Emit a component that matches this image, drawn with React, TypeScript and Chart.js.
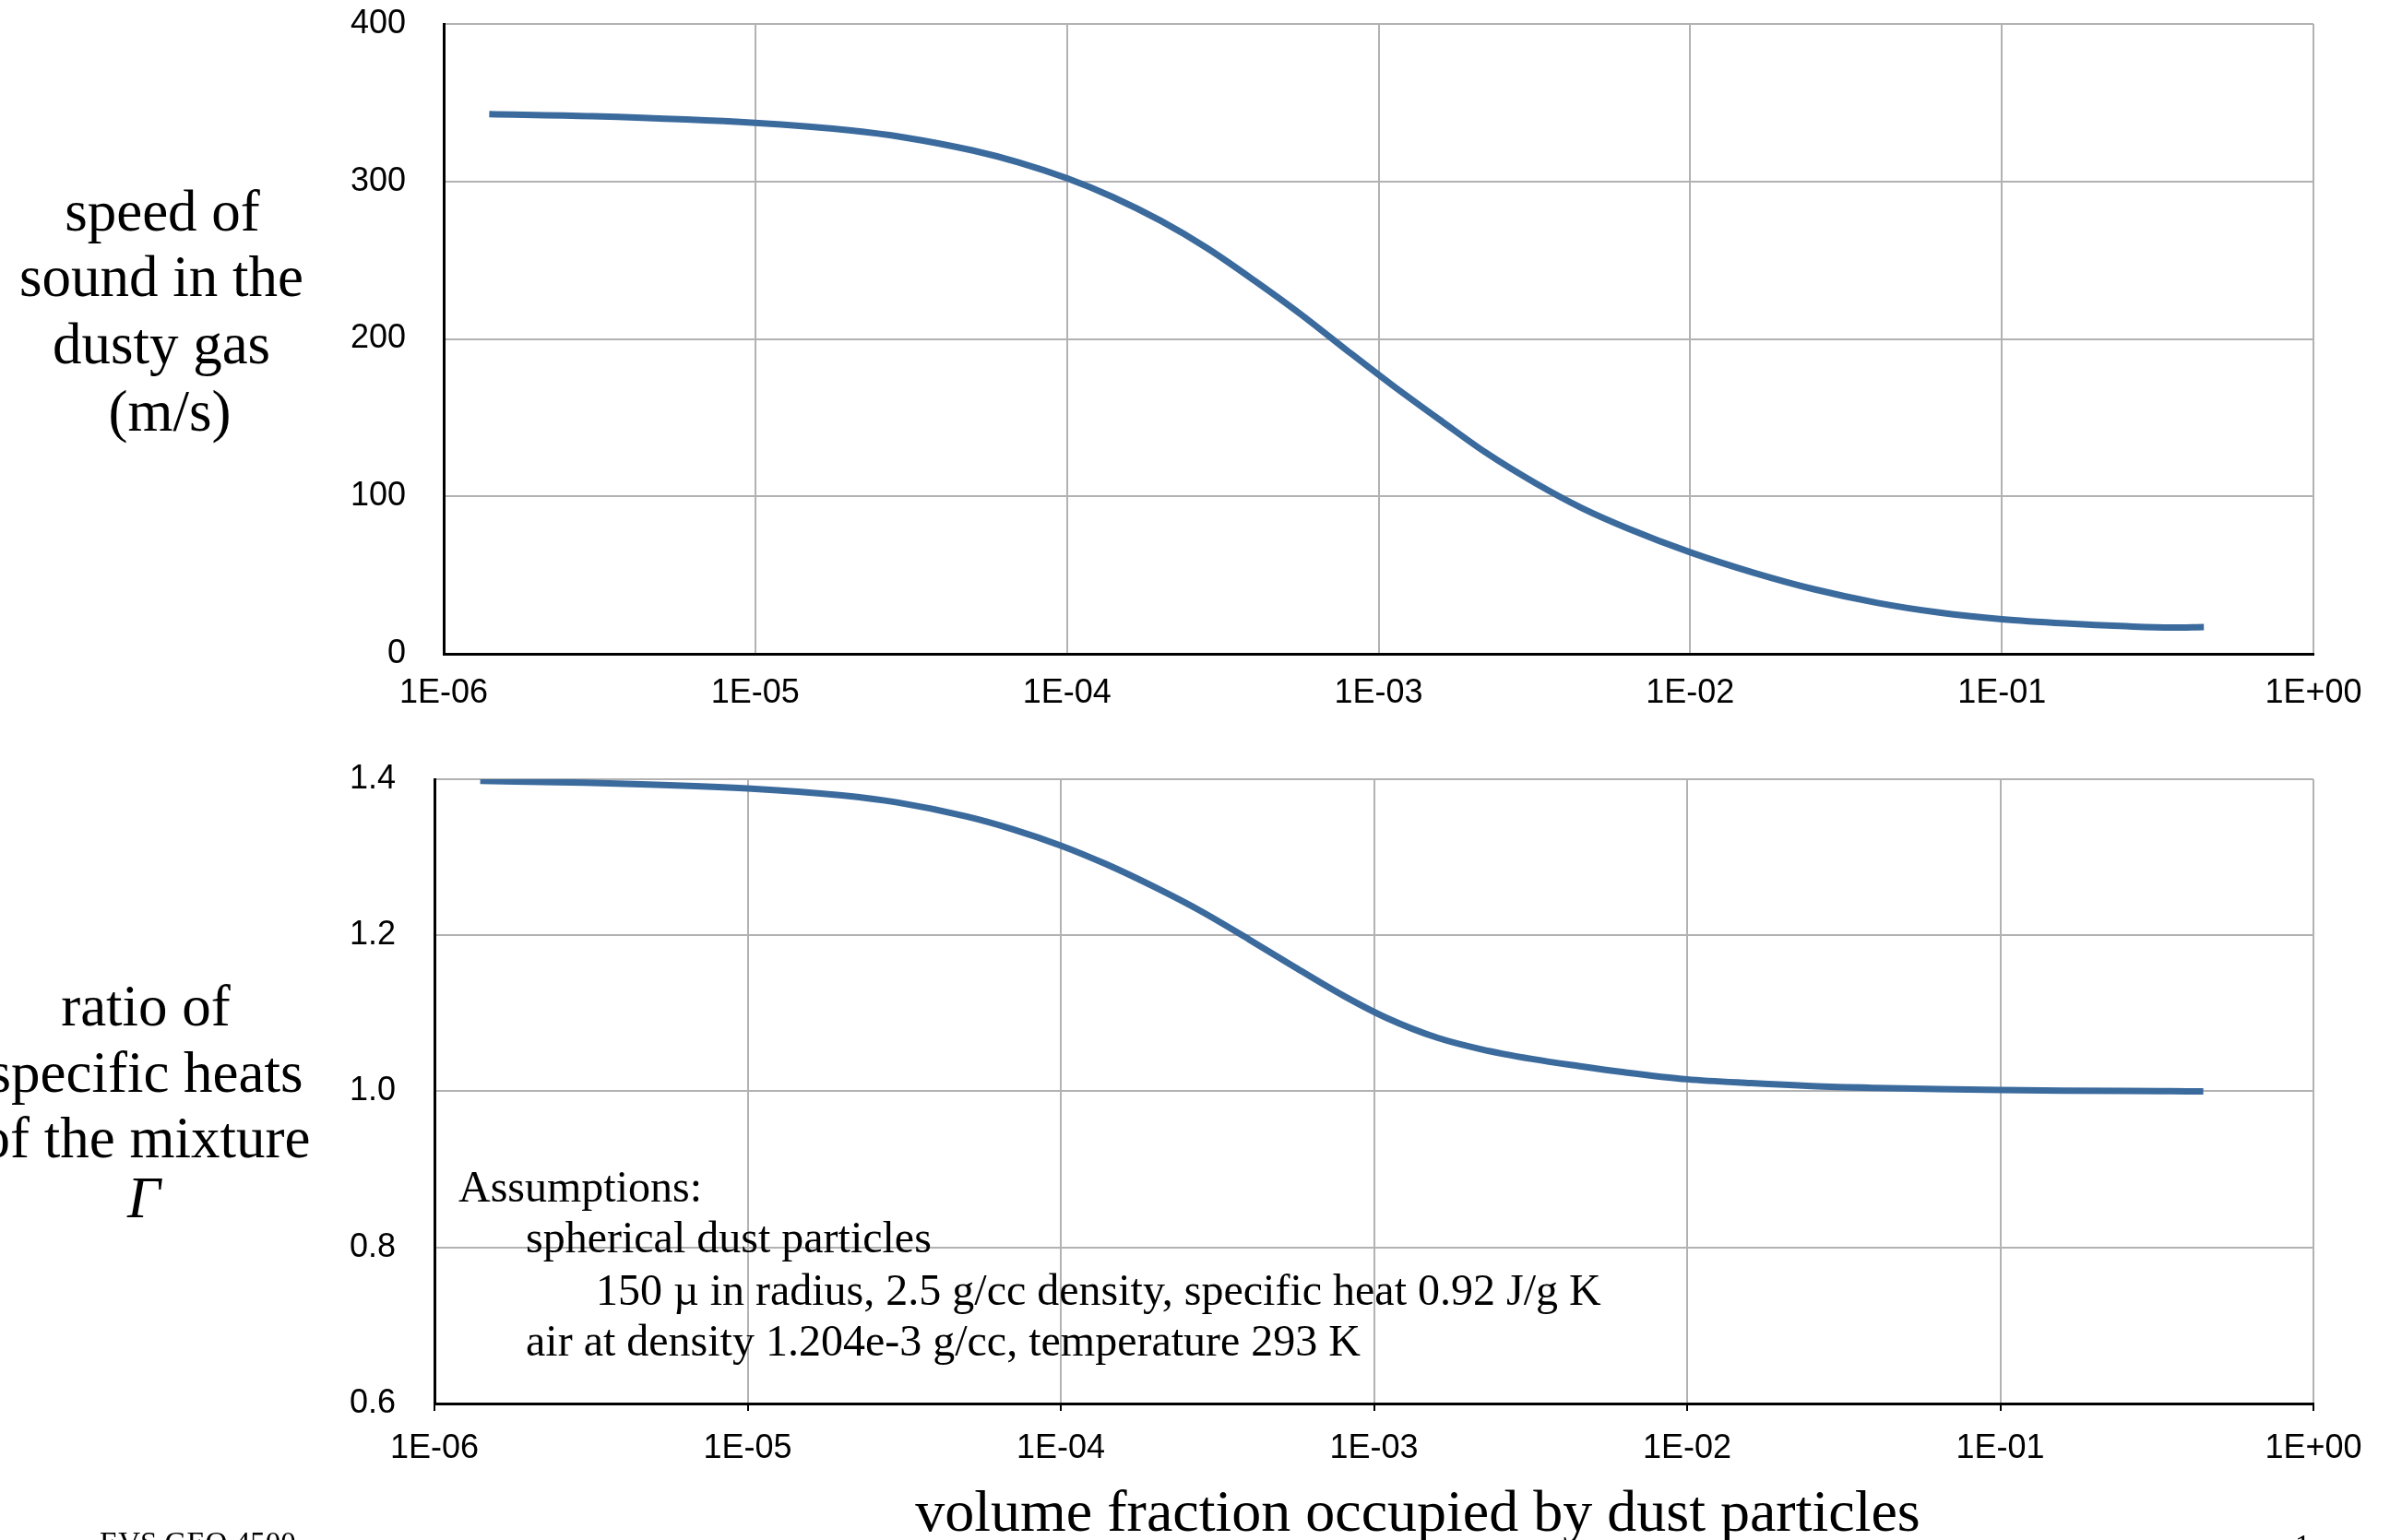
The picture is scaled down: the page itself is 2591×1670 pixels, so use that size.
import React, { useEffect, useRef } from 'react';
import { Chart, registerables } from 'chart.js';

Chart.register(...registerables);

// Volume fraction of dust (x) shared by both panels
const volumeFraction = [
  1.4e-6, 3e-6, 1e-5, 2e-5, 3e-5, 5e-5, 7e-5, 1e-4, 1.4e-4, 2e-4, 2.8e-4,
  4e-4, 5.6e-4, 8e-4, 1.1e-3, 1.6e-3, 2.2e-3, 3.2e-3, 4.5e-3, 6.3e-3, 1e-2,
  1.6e-2, 2.5e-2, 4e-2, 6.3e-2, 0.1, 0.16, 0.25, 0.35, 0.445,
];

// Speed of sound in the dusty gas (m/s)
const soundSpeed = [
  342.7, 341.4, 337.2, 332.5, 328.0, 319.6, 312.1, 302, 290.2, 275, 258,
  237, 216, 192, 171, 147.5, 128, 108.2, 92.5, 79.7, 64.5,
  51.5, 41, 32.3, 26.2, 22, 19.3, 17.5, 16.7, 17.0,
];

// Ratio of specific heats of the mixture
const gammaMixture = [
  1.3978, 1.3956, 1.3883, 1.3793, 1.3703, 1.3523, 1.3361, 1.315, 1.2909, 1.2615, 1.231,
  1.1945, 1.159, 1.1225, 1.094, 1.0685, 1.054, 1.0415, 1.0325, 1.0245, 1.0155,
  1.0105, 1.0068, 1.0045, 1.003, 1.0019, 1.001, 1.0005, 1.0002, 1.0,
];

const decadeTicks = [1e-6, 1e-5, 1e-4, 1e-3, 1e-2, 1e-1, 1];
const decadeLabels = ['1E-06', '1E-05', '1E-04', '1E-03', '1E-02', '1E-01', '1E+00'];
const speedTicks = [0, 100, 200, 300, 400];
const speedTickLabels = ['0', '100', '200', '300', '400'];
const gammaTicks = [0.6, 0.8, 1.0, 1.2, 1.4];
const gammaTickLabels = ['0.6', '0.8', '1.0', '1.2', '1.4'];

const speedTitle = ['speed of', 'sound in the', 'dusty gas', '(m/s)'];
const gammaTitle = ['ratio of', 'specific heats', 'of the mixture'];
const assumptions = [
  'Assumptions:',
  'spherical dust particles',
  '150 µ in radius, 2.5 g/cc density, specific heat 0.92 J/g K',
  'air at density 1.204e-3 g/cc, temperature 293 K',
];

const SANS = "'Liberation Sans', Arial, Helvetica, sans-serif";
const SERIF = "'Liberation Serif', 'Times New Roman', Times, serif";
const LINE_COLOR = '#3b6a9d';
const GRID_COLOR = '#b2b2b2';
const PAGE_W = 2591;
const PAGE_H = 1670;

type Panel = {
  height: number;
  left: number;
  top: number;
  right: number;
  bottom: number;
  values: number[];
  yMin: number;
  yMax: number;
  yTicks: number[];
  yLabels: string[];
  xTickLen: number;
  xPad: number;
  yPad: number;
};

const speedPanel: Panel = {
  height: 800,
  left: 481,
  top: 26,
  right: 2508,
  bottom: 709,
  values: soundSpeed,
  yMin: 0,
  yMax: 400,
  yTicks: speedTicks,
  yLabels: speedTickLabels,
  xTickLen: 0,
  xPad: 21,
  yPad: 41,
};

// second canvas starts at y = 800 on the page
const gammaPanel: Panel = {
  height: 870,
  left: 471,
  top: 45,
  right: 2508,
  bottom: 722,
  values: gammaMixture,
  yMin: 0.6,
  yMax: 1.4,
  yTicks: gammaTicks,
  yLabels: gammaTickLabels,
  xTickLen: 8,
  xPad: 19,
  yPad: 42,
};

function buildChart(canvas: HTMLCanvasElement, p: Panel): Chart {
  const points = volumeFraction.map((x, i) => ({ x, y: p.values[i] }));
  return new Chart(canvas, {
    type: 'line',
    data: {
      datasets: [
        {
          data: points,
          borderColor: LINE_COLOR,
          borderWidth: 7,
          borderCapStyle: 'butt',
          borderJoinStyle: 'round',
          pointRadius: 0,
          pointHoverRadius: 0,
          fill: false,
          cubicInterpolationMode: 'monotone',
        } as any,
      ],
    },
    options: {
      animation: false,
      responsive: false,
      devicePixelRatio: 1,
      events: [],
      layout: {
        padding: { left: 0, top: p.top, right: PAGE_W - p.right, bottom: 0 },
      },
      plugins: {
        legend: { display: false },
        tooltip: { enabled: false },
        title: { display: false },
      },
      scales: {
        x: {
          type: 'logarithmic',
          position: 'bottom',
          min: 1e-6,
          max: 1,
          afterBuildTicks: (s: any) => {
            s.ticks = decadeTicks.map((v) => ({ value: v }));
          },
          afterFit: (s: any) => {
            s.height = p.height - p.bottom;
            s.paddingLeft = 0;
            s.paddingRight = 0;
          },
          grid: {
            color: GRID_COLOR,
            lineWidth: 2,
            drawTicks: p.xTickLen > 0,
            tickLength: p.xTickLen,
            tickColor: '#000',
            tickWidth: 2,
          },
          border: { display: true, color: '#000', width: 3 },
          ticks: {
            autoSkip: false,
            maxRotation: 0,
            minRotation: 0,
            padding: p.xPad,
            color: '#000',
            font: { family: SANS, size: 36 },
            callback: (_v: any, i: number) => decadeLabels[i],
          },
        },
        y: {
          type: 'linear',
          min: p.yMin,
          max: p.yMax,
          afterBuildTicks: (s: any) => {
            s.ticks = p.yTicks.map((v) => ({ value: v }));
          },
          afterFit: (s: any) => {
            s.width = p.left;
            s.paddingTop = 0;
            s.paddingBottom = 0;
          },
          grid: { color: GRID_COLOR, lineWidth: 2, drawTicks: false },
          border: { display: true, color: '#000', width: 3 },
          ticks: {
            padding: p.yPad,
            color: '#000',
            font: { family: SANS, size: 36 },
            callback: (_v: any, i: number) => p.yLabels[i],
          },
        },
      },
    } as any,
  });
}

function ChartCanvas({ panel, top }: { panel: Panel; top: number }) {
  const ref = useRef<HTMLCanvasElement | null>(null);
  useEffect(() => {
    if (!ref.current) return;
    const chart = buildChart(ref.current, panel);
    return () => chart.destroy();
  }, [panel]);
  return (
    <canvas
      ref={ref}
      width={PAGE_W}
      height={panel.height}
      style={{ position: 'absolute', left: 0, top, width: PAGE_W, height: panel.height }}
    />
  );
}

type LineProps = {
  text: string;
  x: number;
  baseline: number;
  size: number;
  align?: 'center' | 'left';
  italic?: boolean;
};

// Serif text line placed by its baseline
function TextLine({ text, x, baseline, size, align = 'center', italic = false }: LineProps) {
  const style: React.CSSProperties = {
    position: 'absolute',
    top: baseline - 0.8375 * size,
    fontFamily: SERIF,
    fontSize: size,
    lineHeight: `${size}px`,
    whiteSpace: 'pre',
    color: '#000',
    fontStyle: italic ? 'italic' : 'normal',
  };
  if (align === 'center') {
    style.left = x - 600;
    style.width = 1200;
    style.textAlign = 'center';
  } else {
    style.left = x;
  }
  return <div style={style}>{text}</div>;
}

const speedTitleX = [176, 175, 175, 184];
const speedTitleBaselines = [251, 322, 395, 468];
const gammaTitleBaselines = [1113, 1185, 1256];
const assumptionX = [497, 570, 646, 570];
const assumptionBaselines = [1303, 1358, 1415, 1470];

export default function App() {
  return (
    <div
      style={{
        position: 'absolute',
        left: 0,
        top: 0,
        width: PAGE_W,
        height: PAGE_H,
        overflow: 'hidden',
        background: '#fff',
      }}
    >
      <ChartCanvas panel={speedPanel} top={0} />
      <ChartCanvas panel={gammaPanel} top={800} />

      {speedTitle.map((t, i) => (
        <TextLine key={'s' + i} text={t} x={speedTitleX[i]} baseline={speedTitleBaselines[i]} size={63} />
      ))}
      {gammaTitle.map((t, i) => (
        <TextLine key={'g' + i} text={t} x={158} baseline={gammaTitleBaselines[i]} size={63} />
      ))}
      <TextLine text="Γ" x={156} baseline={1321} size={63} italic />

      {assumptions.map((t, i) => (
        <TextLine
          key={'a' + i}
          text={t}
          x={assumptionX[i]}
          baseline={assumptionBaselines[i]}
          size={48}
          align="left"
        />
      ))}

      <TextLine text="volume fraction occupied by dust particles" x={1537} baseline={1661} size={64} />
      <TextLine text="EVS GEO 4500" x={108} baseline={1685} size={33} align="left" />
      <TextLine text="1" x={2488} baseline={1688} size={33} align="left" />
    </div>
  );
}
